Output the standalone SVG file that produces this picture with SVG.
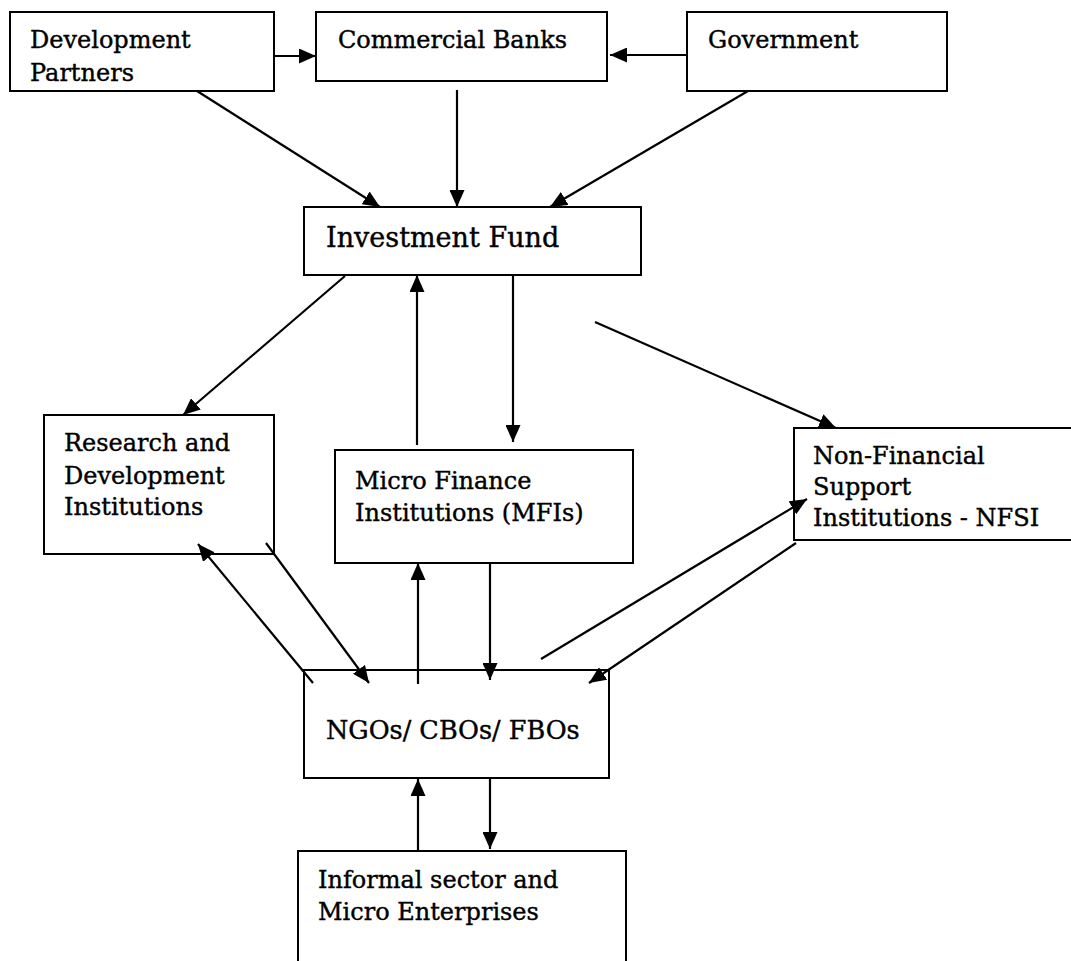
<svg xmlns="http://www.w3.org/2000/svg" width="1071" height="961" viewBox="0 0 1071 961">
<style>
.box{fill:#fff;stroke:#000;stroke-width:2}
.t{font-family:"DejaVu Serif","Liberation Serif",serif;font-size:24px;fill:#000;stroke:#000;stroke-width:0.4}
.big{font-size:27px}
.mid{font-size:25.5px}
.c line{stroke:#000;stroke-width:2.2;fill:none}
</style>
<defs>
<marker id="ah" markerUnits="userSpaceOnUse" markerWidth="19" markerHeight="15" refX="17" refY="7.5" orient="auto">
<path d="M0,0 L17,7.5 L0,15 Z" fill="#000"/>
</marker>
</defs>
<rect width="1071" height="961" fill="#fff"/>
<g id="dev-partners"><rect class="box" x="10" y="12" width="264" height="79"/><text class="t" x="30" y="48">Development</text><text class="t" x="30" y="81">Partners</text></g>
<g id="commercial-banks"><rect class="box" x="316" y="12" width="291" height="69"/><text class="t" x="338" y="48">Commercial Banks</text></g>
<g id="government"><rect class="box" x="687" y="12" width="260" height="79"/><text class="t" x="708" y="48">Government</text></g>
<g id="investment-fund"><rect class="box" x="304" y="207" width="337" height="68"/><text class="t big" x="326" y="247">Investment Fund</text></g>
<g id="research"><rect class="box" x="44" y="415" width="230" height="139"/><text class="t" x="64" y="451">Research and</text><text class="t" x="64" y="484">Development</text><text class="t" x="64" y="515">Institutions</text></g>
<g id="mfi"><rect class="box" x="335" y="450" width="298" height="113"/><text class="t" x="355" y="489">Micro Finance</text><text class="t" x="355" y="521">Institutions (MFIs)</text></g>
<g id="nfsi"><rect class="box" x="794" y="428" width="290" height="112"/><text class="t" x="813" y="464">Non-Financial</text><text class="t" x="813" y="495">Support</text><text class="t" x="813" y="526">Institutions - NFSI</text></g>
<g id="ngo"><rect class="box" x="304" y="670" width="305" height="108"/><text class="t mid" x="326" y="739">NGOs/ CBOs/ FBOs</text></g>
<g id="informal"><rect class="box" x="298" y="851" width="328" height="120"/><text class="t" x="318" y="888">Informal sector and</text><text class="t" x="318" y="920">Micro Enterprises</text></g>
<g id="connectors" class="c">
<line x1="274" y1="56" x2="316" y2="56" marker-end="url(#ah)"/>
<line x1="687" y1="55" x2="610" y2="55" marker-end="url(#ah)"/>
<line x1="197" y1="91" x2="380" y2="207" marker-end="url(#ah)"/>
<line x1="457" y1="90" x2="457" y2="207" marker-end="url(#ah)"/>
<line x1="748" y1="91" x2="550" y2="207" marker-end="url(#ah)"/>
<line x1="345" y1="276" x2="183" y2="415" marker-end="url(#ah)"/>
<line x1="417" y1="445" x2="417" y2="275" marker-end="url(#ah)"/>
<line x1="513" y1="275" x2="513" y2="442" marker-end="url(#ah)"/>
<line x1="595" y1="322" x2="836" y2="428" marker-end="url(#ah)"/>
<line x1="313" y1="683" x2="198" y2="544" marker-end="url(#ah)"/>
<line x1="266" y1="543" x2="369" y2="683" marker-end="url(#ah)"/>
<line x1="418" y1="684" x2="418" y2="563" marker-end="url(#ah)"/>
<line x1="490" y1="563" x2="490" y2="680" marker-end="url(#ah)"/>
<line x1="541" y1="659" x2="807" y2="499" marker-end="url(#ah)"/>
<line x1="796" y1="543" x2="589" y2="683" marker-end="url(#ah)"/>
<line x1="490" y1="778" x2="490" y2="849" marker-end="url(#ah)"/>
<line x1="418" y1="851" x2="418" y2="779" marker-end="url(#ah)"/>
</g>
</svg>
